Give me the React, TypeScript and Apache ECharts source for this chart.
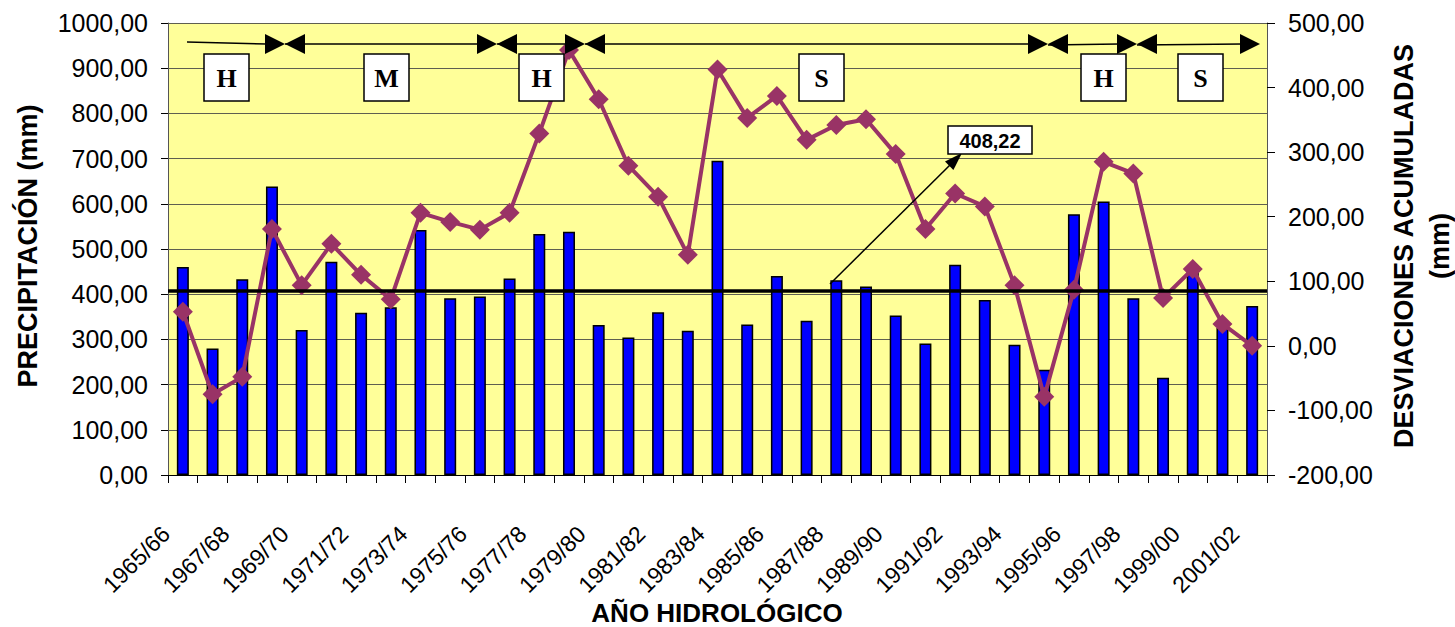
import React, { useEffect, useRef } from 'react';
import * as echarts from 'echarts';

const years = [
  '1965/66', '1966/67', '1967/68', '1968/69', '1969/70', '1970/71', '1971/72', '1972/73',
  '1973/74', '1974/75', '1975/76', '1976/77', '1977/78', '1978/79', '1979/80', '1980/81',
  '1981/82', '1982/83', '1983/84', '1984/85', '1985/86', '1986/87', '1987/88', '1988/89',
  '1989/90', '1990/91', '1991/92', '1992/93', '1993/94', '1994/95', '1995/96', '1996/97',
  '1997/98', '1998/99', '1999/00', '2000/01', '2001/02',
];

const precipitation = [
  460, 280, 433, 638, 321, 472, 359, 371, 542, 391, 395, 435, 533, 538, 332, 304, 360, 319,
  695, 333, 440, 341, 431, 417, 353, 291, 465, 387, 288, 233, 577, 605, 391, 215, 450, 325, 374,
];

const deviations = [
  53, -75, -48, 181, 94, 158, 110, 72, 206, 192, 180, 206, 329, 458, 382, 279, 231, 141,
  428, 353, 387, 319, 342, 351, 297, 181, 236, 216, 94, -79, 87, 285, 267, 74, 119, 34, 0,
];

const meanPrecip = 408.22;

const periodLabels = ['H', 'M', 'H', 'S', 'H', 'S'];

const SANS = "'Liberation Sans', Arial, sans-serif";
const SERIF = "'Liberation Serif', 'Times New Roman', serif";

export default function App() {
  const ref = useRef<HTMLDivElement>(null);

  useEffect(() => {
    const chart = echarts.init(ref.current!, null, { renderer: 'svg' });
    const fmt = (v: number) => v.toFixed(2).replace('.', ',');

    const graphic: any[] = [];
    // period arrows
    const arrowY = 44;
    const segs = [
      { x1: 187, x2: 285, left: false, y1: 42 },
      { x1: 285, x2: 497, left: true, y1: 44 },
      { x1: 497, x2: 585, left: true, y1: 44 },
      { x1: 585, x2: 1048, left: true, y1: 44 },
      { x1: 1048, x2: 1137, left: true, y1: 45 },
      { x1: 1137, x2: 1260, left: true, y1: 45 },
    ];
    const hl = 20;
    const hw = 10;
    segs.forEach((s) => {
      graphic.push({
        type: 'line',
        z: 100,
        shape: { x1: s.x1, y1: s.y1, x2: s.x2 - hl + 2, y2: arrowY },
        style: { stroke: '#000', lineWidth: 1.5 },
      });
      graphic.push({
        type: 'polygon',
        z: 100,
        shape: { points: [[s.x2, arrowY], [s.x2 - hl, arrowY - hw], [s.x2 - hl, arrowY + hw]] },
        style: { fill: '#000' },
      });
      if (s.left) {
        graphic.push({
          type: 'polygon',
          z: 100,
          shape: { points: [[s.x1, arrowY], [s.x1 + hl, arrowY - hw], [s.x1 + hl, arrowY + hw]] },
          style: { fill: '#000' },
        });
      }
    });
    const boxXs = [204, 364, 519, 799, 1081, 1178];
    periodLabels.forEach((lab, i) => {
      const x = boxXs[i];
      graphic.push({
        type: 'rect',
        z: 100,
        shape: { x, y: 54, width: 45, height: 47 },
        style: { fill: '#fff', stroke: '#000', lineWidth: 1.5 },
      });
      graphic.push({
        type: 'text',
        z: 101,
        x: x + 22.5,
        y: 78,
        style: {
          text: lab,
          fontFamily: SERIF,
          fontWeight: 'bold',
          fontSize: 26,
          fill: '#000',
          align: 'center',
          verticalAlign: 'middle',
        },
      });
    });
    // mean annotation
    graphic.push({
      type: 'line',
      z: 100,
      shape: { x1: 830, y1: 284, x2: 950, y2: 165 },
      style: { stroke: '#000', lineWidth: 1.5 },
    });
    graphic.push({
      type: 'polygon',
      z: 100,
      shape: { points: [[962, 153], [953.4, 170], [945, 161.4]] },
      style: { fill: '#000' },
    });
    graphic.push({
      type: 'rect',
      z: 100,
      shape: { x: 948, y: 126, width: 84, height: 28 },
      style: { fill: '#fff', stroke: '#000', lineWidth: 1.5 },
    });
    graphic.push({
      type: 'text',
      z: 101,
      x: 990,
      y: 141,
      style: {
        text: fmt(meanPrecip),
        fontFamily: SANS,
        fontWeight: 'bold',
        fontSize: 20,
        fill: '#000',
        align: 'center',
        verticalAlign: 'middle',
      },
    });
    // axis titles
    graphic.push({
      type: 'text',
      z: 100,
      x: 28,
      y: 246,
      rotation: Math.PI / 2,
      style: {
        text: 'PRECIPITACIÓN (mm)',
        fontFamily: SANS,
        fontWeight: 'bold',
        fontSize: 27,
        fill: '#000',
        align: 'center',
        verticalAlign: 'middle',
      },
    });
    graphic.push({
      type: 'text',
      z: 100,
      x: 1404,
      y: 246,
      rotation: Math.PI / 2,
      style: {
        text: 'DESVIACIONES ACUMULADAS',
        fontFamily: SANS,
        fontWeight: 'bold',
        fontSize: 27,
        fill: '#000',
        align: 'center',
        verticalAlign: 'middle',
      },
    });
    graphic.push({
      type: 'text',
      z: 100,
      x: 1440,
      y: 246,
      rotation: Math.PI / 2,
      style: {
        text: '(mm)',
        fontFamily: SANS,
        fontWeight: 'bold',
        fontSize: 27,
        fill: '#000',
        align: 'center',
        verticalAlign: 'middle',
      },
    });
    graphic.push({
      type: 'text',
      z: 100,
      x: 717,
      y: 613,
      style: {
        text: 'AÑO HIDROLÓGICO',
        fontFamily: SANS,
        fontWeight: 'bold',
        fontSize: 26,
        fill: '#000',
        align: 'center',
        verticalAlign: 'middle',
      },
    });

    chart.setOption({
      animation: false,
      backgroundColor: '#ffffff',
      grid: {
        left: 168,
        right: 188,
        top: 23,
        bottom: 152,
        show: true,
        backgroundColor: '#FFFF99',
        borderWidth: 0,
      },
      xAxis: {
        type: 'category',
        data: years,
        boundaryGap: true,
        axisLine: { show: true, lineStyle: { color: '#000', width: 1 } },
        axisTick: { show: true, interval: 0, length: 8, lineStyle: { color: '#000' } },
        axisLabel: {
          interval: 1,
          rotate: 45,
          fontSize: 23,
          fontFamily: SANS,
          color: '#000',
          margin: 38,
          padding: [0, 24, 0, 0],
        },
        splitLine: { show: false },
      },
      yAxis: [
        {
          type: 'value',
          min: 0,
          max: 1000,
          interval: 100,
          position: 'left',
          axisLine: { show: true, lineStyle: { color: '#555', width: 1 } },
          axisTick: { show: true, length: 7, lineStyle: { color: '#000' } },
          axisLabel: {
            formatter: fmt,
            fontSize: 25,
            fontFamily: SANS,
            color: '#000',
            margin: 20,
          },
          splitLine: { show: true, lineStyle: { color: '#5f5f50', width: 1 } },
        },
        {
          type: 'value',
          min: -200,
          max: 500,
          interval: 100,
          position: 'right',
          axisLine: { show: true, lineStyle: { color: '#555', width: 1 } },
          axisTick: { show: true, length: 8, lineStyle: { color: '#000' } },
          axisLabel: {
            formatter: fmt,
            fontSize: 25,
            fontFamily: SANS,
            color: '#000',
            margin: 21,
          },
          splitLine: { show: false },
        },
      ],
      series: [
        {
          type: 'bar',
          data: precipitation,
          yAxisIndex: 0,
          barWidth: 12,
          itemStyle: { color: '#0000FF', borderColor: '#000', borderWidth: 1.5 },
          emphasis: { disabled: true },
          markLine: {
            silent: true,
            symbol: ['none', 'none'],
            label: { show: false },
            lineStyle: { color: '#000', width: 3.5, type: 'solid' },
            data: [{ yAxis: meanPrecip }],
          },
        },
        {
          type: 'line',
          data: deviations,
          yAxisIndex: 1,
          symbol: 'diamond',
          symbolSize: 20,
          showAllSymbol: true,
          lineStyle: { color: '#993366', width: 4 },
          itemStyle: { color: '#993366' },
          emphasis: { disabled: true },
        },
      ],
      graphic,
    });

    return () => chart.dispose();
  }, []);

  return (
    <div
      ref={ref}
      style={{ position: 'fixed', left: 0, top: 0, width: 1455, height: 627, background: '#fff' }}
    />
  );
}
